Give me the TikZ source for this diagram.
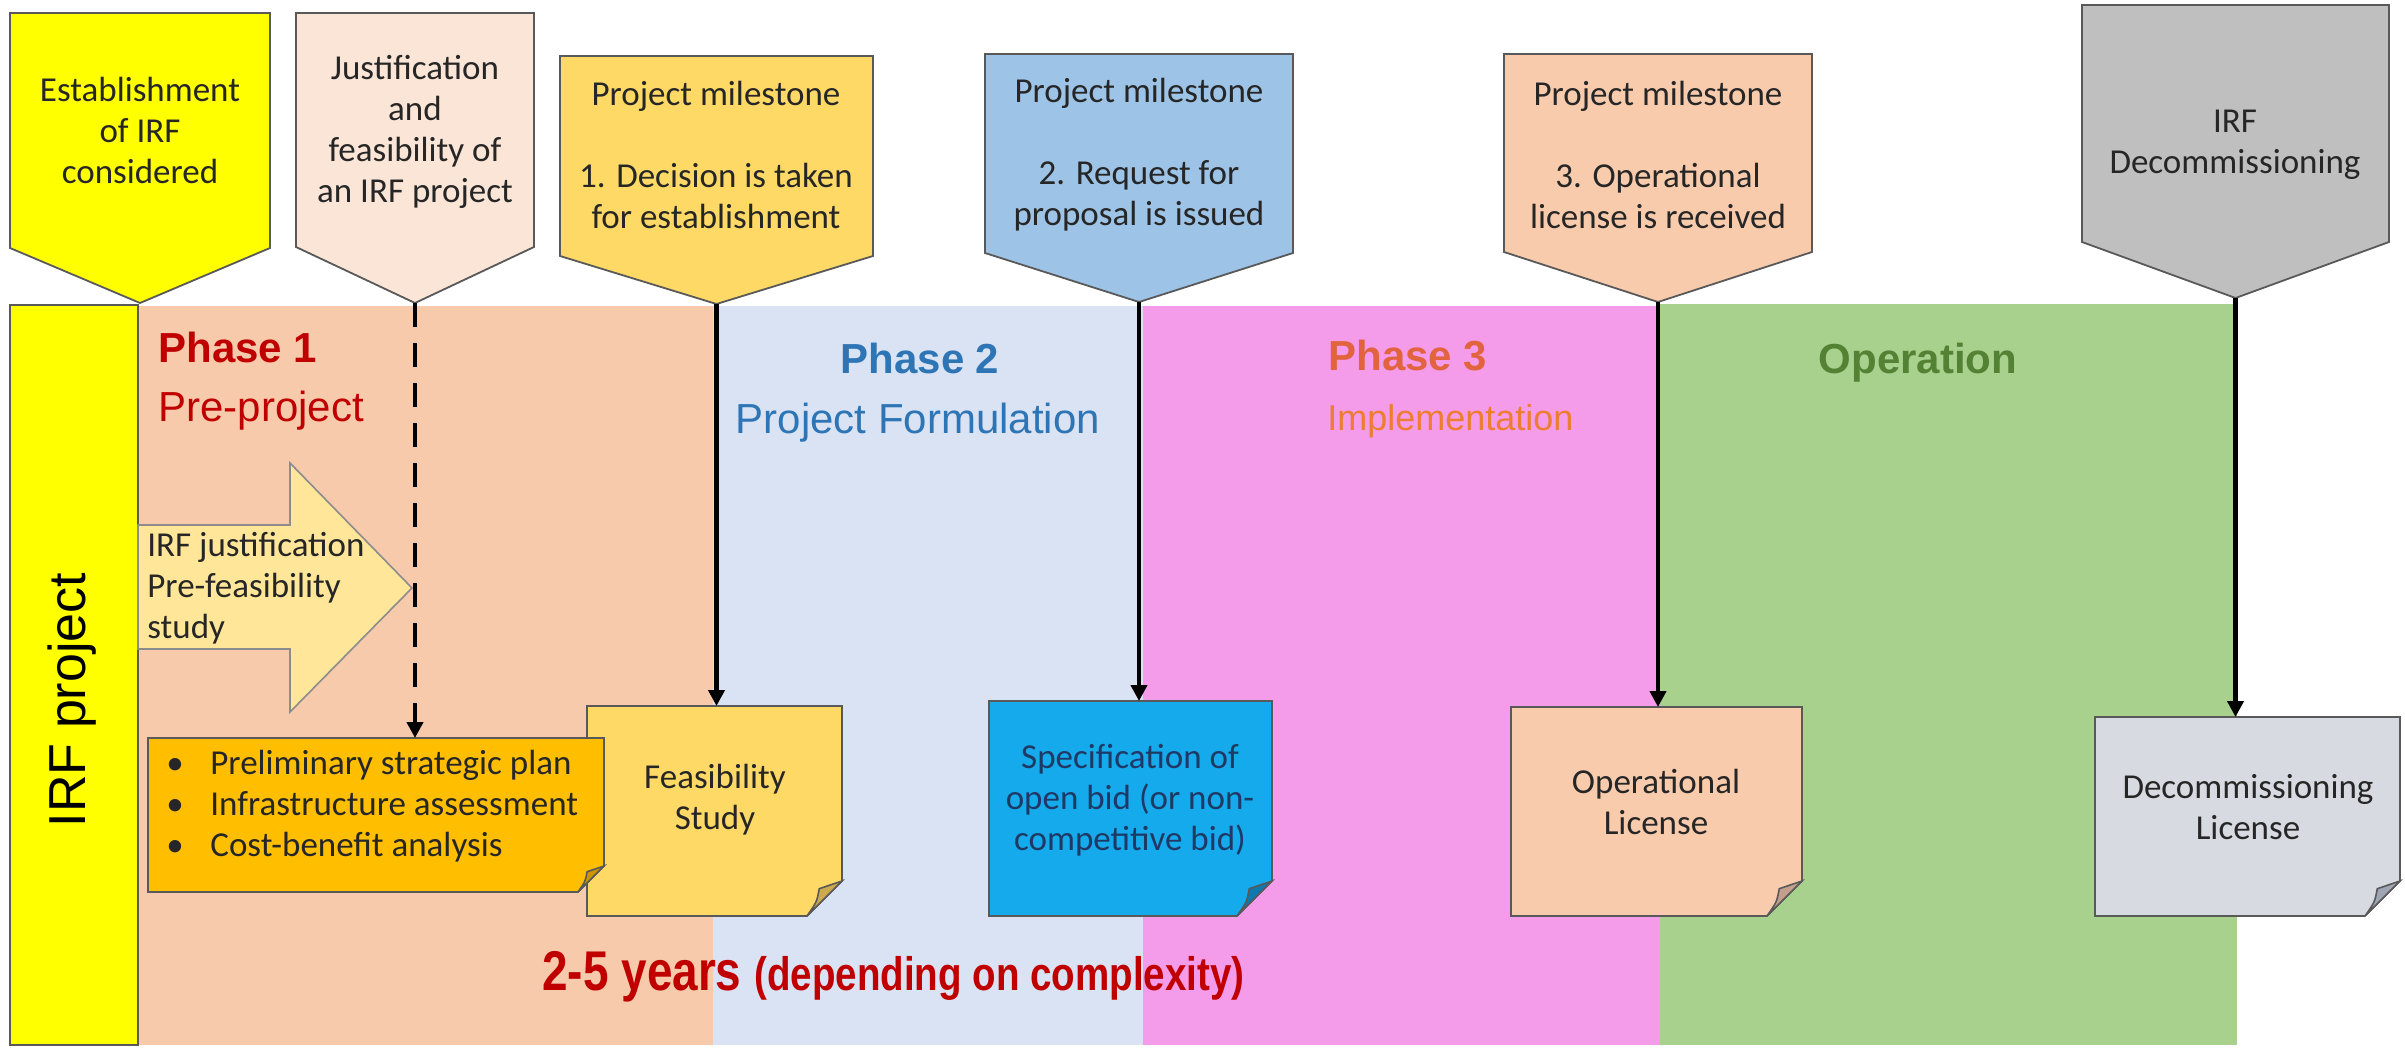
\documentclass[tikz,border=0pt]{standalone}
\usepackage{fontspec}
\setmainfont{Carlito}
\newfontfamily\arialfont{Liberation Sans}
\newfontfamily\narrowfont[FakeStretch=0.82]{Liberation Sans}
\usetikzlibrary{arrows.meta}

\definecolor{cyel}{RGB}{255,255,0}
\definecolor{cjust}{RGB}{251,229,214}
\definecolor{cgold}{RGB}{255,217,102}
\definecolor{cgoldfold}{RGB}{205,170,80}
\definecolor{cblue}{RGB}{157,195,230}
\definecolor{cpeach}{RGB}{248,203,173}
\definecolor{cpeachfold}{RGB}{196,160,140}
\definecolor{cgrey}{RGB}{191,191,191}
\definecolor{bgone}{RGB}{247,202,172}
\definecolor{bgtwo}{RGB}{218,227,243}
\definecolor{bgthree}{RGB}{244,156,234}
\definecolor{bgop}{RGB}{169,209,142}
\definecolor{corange}{RGB}{255,190,0}
\definecolor{corangefold}{RGB}{204,150,0}
\definecolor{cspec}{RGB}{20,170,235}
\definecolor{cspecfold}{RGB}{14,120,175}
\definecolor{cdecom}{RGB}{215,218,224}
\definecolor{cdecomfold}{RGB}{160,165,180}
\definecolor{carrow}{RGB}{255,230,153}
\definecolor{cspectext}{RGB}{31,56,100}
\definecolor{cred}{RGB}{192,0,0}
\definecolor{cbluet}{RGB}{46,117,182}
\definecolor{cphthree}{RGB}{226,100,62}
\definecolor{cimpl}{RGB}{237,125,49}
\definecolor{cgreen}{RGB}{84,130,53}
\definecolor{edgegrey}{RGB}{89,89,89}

\newcommand\pentshape[7]{%
  \draw[pentdraw, fill=#2] (#3,#5) -- (#4,#5) -- (#4,#6) -- ({(#3+#4)/2},#7) -- (#3,#6) -- cycle;
  \coordinate (#1) at ({(#3+#4)/2},#7);
}
\newcommand\stickynote[8]{%
  \node[inner sep=0pt, outer sep=0pt, minimum width={(#6-#4)*0.5pt}, minimum height={(#7-#5)*0.5pt}] (#1) at ({(#4+#6)/2},{(#5+#7)/2}) {};
  \draw[notedraw, fill=#2] (#4,#5) -- (#6,#5) -- (#6,#7-#8) -- (#6-#8,#7) -- (#4,#7) -- cycle;
  \draw[notedraw, fill=#3] (#6,#7-#8) .. controls (#6-0.3*#8,#7-0.9*#8) .. (#6-0.65*#8,#7-0.78*#8)
     .. controls (#6-0.72*#8,#7-0.4*#8) .. (#6-#8,#7) -- cycle;
}

\begin{document}
\begin{tikzpicture}[x=0.5pt,y=-0.5pt,
  pentdraw/.style={draw=edgegrey, line width=0.9pt, line join=miter},
  notedraw/.style={draw=edgegrey, line width=0.8pt, line join=miter},
  ptext/.style={align=center, inner sep=0pt, text=black!85, font=\fontsize{17.5}{20.5}\selectfont},
  notetext/.style={align=center, inner sep=0pt, text=black!85, font=\fontsize{17.5}{20.5}\selectfont},
  conn/.style={line width=2.4pt, -{Triangle[length=8pt,width=8pt]}},
  dashconn/.style={line width=2.4pt, dash pattern=on 12pt off 8pt, -{Triangle[length=8pt,width=8pt]}},
  phasebold/.style={inner sep=0pt, font=\arialfont\bfseries\fontsize{21}{25}\selectfont},
  phasereg/.style={inner sep=0pt, font=\arialfont\fontsize{21}{25}\selectfont}
]
\useasboundingbox (0,0) rectangle (2405,1049);

% phase backgrounds
\fill[bgone] (138,306) rectangle (713,1045);
\fill[bgtwo] (713,306) rectangle (1143,1045);
\fill[bgthree] (1143,306) rectangle (1660,1045);
\fill[bgop] (1660,304) rectangle (2237,1045);
\draw[fill=cyel, draw=edgegrey, line width=0.8pt] (10,305) rectangle (138,1045);
\node[rotate=90, inner sep=0pt, font=\arialfont\fontsize{26}{30}\selectfont] (irf) at (72,700) {IRF project};

% phase titles
\node[phasebold, anchor=base west, text=cred] (ph1) at (158,362) {Phase 1};
\node[phasereg, anchor=base west, text=cred] (ph1s) at (158,421) {Pre-project};
\node[phasebold, anchor=base, text=cbluet] (ph2) at (920,373) {Phase 2};
\node[phasereg, anchor=base, text=cbluet] (ph2s) at (918,433) {Project Formulation};
\node[phasebold, anchor=base west, text=cphthree] (ph3) at (1328,370) {Phase 3};
\node[phasereg, anchor=base west, text=cimpl, font=\arialfont\fontsize{18}{22}\selectfont] (ph3s) at (1327,430) {Implementation};
\node[phasebold, anchor=base, text=cgreen] (ph4) at (1918,373) {Operation};

% top pentagons
\pentshape{p0tip}{cyel}{10}{270}{13}{248}{303}
\pentshape{p1tip}{cjust}{296}{534}{13}{247}{303}
\pentshape{p2tip}{cgold}{560}{873}{56}{256}{304}
\pentshape{p3tip}{cblue}{985}{1293}{54}{253}{302}
\pentshape{p4tip}{cpeach}{1504}{1812}{54}{252}{302}
\pentshape{p5tip}{cgrey}{2082}{2389}{5}{242}{298}

\node[ptext] (p0) at (140,130) {Establishment\\of IRF\\considered};
\node[ptext] (p1) at (415,132) {Justification\\and\\feasibility of\\an IRF project};
\node[ptext] (p2) at (716,155) {Project milestone\\\mbox{}\\1. Decision is taken\\for establishment};
\node[ptext] (p3) at (1139,155) {Project milestone\\\mbox{}\\2. Request for\\proposal is issued};
\node[ptext] (p4) at (1658,155) {Project milestone\\\mbox{}\\3. Operational\\license is received};
\node[ptext] (p5) at (2235,145) {IRF\\Decommissioning};

% block arrow
\draw[draw=black!45, fill=carrow, line width=0.8pt, line join=miter]
  (138,525) -- (290,525) -- (290,463) -- (412,588) -- (290,712) -- (290,649) -- (138,649) -- cycle;
\node[notetext, align=left, anchor=west] (jus) at (147,588) {IRF justification\\Pre-feasibility\\study};

% sticky notes
\stickynote{feas}{cgold}{cgoldfold}{587}{706}{842}{916}{35}
\stickynote{bullets}{corange}{corangefold}{148}{738}{604}{892}{26}
\stickynote{spec}{cspec}{cspecfold}{989}{701}{1272}{916}{35}
\stickynote{oplic}{cpeach}{cpeachfold}{1511}{707}{1802}{916}{35}
\stickynote{declic}{cdecom}{cdecomfold}{2095}{717}{2400}{916}{35}

\node[notetext, align=left, anchor=west] (bl) at (166,806)
  {\makebox[22pt][l]{\textbullet}Preliminary strategic plan\\
   \makebox[22pt][l]{\textbullet}Infrastructure assessment\\
   \makebox[22pt][l]{\textbullet}Cost-benefit analysis};
\node[notetext] (feast) at (715,800) {Feasibility\\Study};
\node[notetext, text=cspectext] (spect) at (1130,800) {Specification of\\open bid (or non-\\competitive bid)};
\node[notetext] (oplict) at (1656,802) {Operational\\License};
\node[notetext] (declict) at (2248,807) {Decommissioning\\License};

% connectors
\draw[dashconn] (p1tip) -- (p1tip |- bullets.north);
\draw[conn] (p2tip) -- (p2tip |- feas.north);
\draw[conn] (p3tip) -- (p3tip |- spec.north);
\draw[conn] (p4tip) -- (p4tip |- oplic.north);
\draw[conn] (p5tip) -- (p5tip |- declic.north);

% duration
\node[anchor=base west, inner sep=0pt, text=cred, font=\narrowfont\bfseries] (yrs) at (542,990)
  {\fontsize{28}{32}\selectfont 2-5 years \fontsize{23.5}{28}\selectfont(depending on complexity)};
\end{tikzpicture}
\end{document}
